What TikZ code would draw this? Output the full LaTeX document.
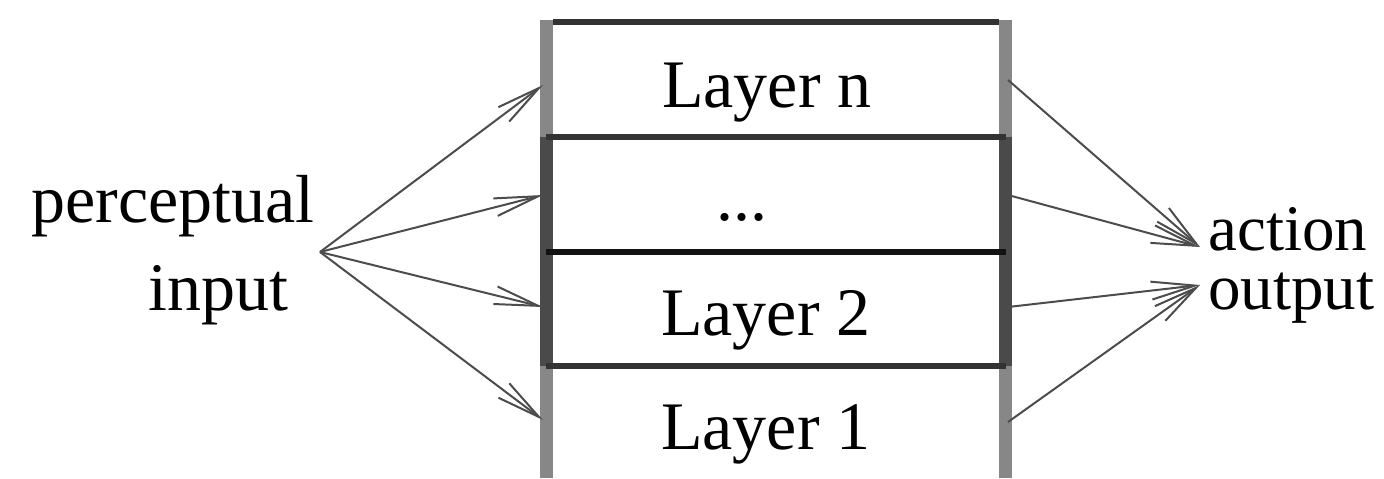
\documentclass[tikz,border=0pt]{standalone}
\usepackage{fontspec}
\setmainfont{Liberation Serif}
\usetikzlibrary{arrows.meta}
\begin{document}
\begin{tikzpicture}[x=0.5pt,y=-0.5pt,
  lbl/.style={font=\fontsize{34}{40}\selectfont, inner sep=0pt, anchor=base},
  lblw/.style={font=\fontsize{32.5}{36}\selectfont, inner sep=0pt, anchor=base west},
  conn/.style={draw=black!70, line width=1pt, -{Straight Barb[length=22pt,width=9pt,line width=1pt]}},
  edgegray/.style={fill=black!47},
  edgedark/.style={fill=black!71},
  hline/.style={line width=2.6pt, draw=black!80},
  hlinedark/.style={line width=3pt, draw=black!93},
]
\useasboundingbox (0,0) rectangle (1384,478);
% vertical edges of the layer stack
\path[edgegray] (540,20) rectangle (553,137);
\path[edgedark] (540,137) rectangle (553,366);
\path[edgegray] (540,366) rectangle (553,478);
\path[edgegray] (999,20) rectangle (1012,137);
\path[edgedark] (999,137) rectangle (1012,366);
\path[edgegray] (999,366) rectangle (1012,478);
% horizontal separators
\draw[hline] (553,22) -- (999,22);
\draw[hline] (546,137) -- (1006,137);
\draw[hlinedark] (546,252) -- (1006,252);
\draw[hline] (546,366) -- (1006,366);
% layer labels
\node[lbl] (ln) at (767,107) {Layer n};
\node[lbl] (ldots) at (742,220) {...};
\node[lbl] (l2) at (766,335) {Layer 2};
\node[lbl] (l1) at (766,449) {Layer 1};
% input / output labels
\node[lbl] (percep) at (173,222) {perceptual};
\node[lbl] (inp) at (218,310) {input};
\node[lblw] (act) at (1208,250) {action};
\node[lblw] (outp) at (1208,309) {output};
% connector points
\coordinate (src) at (320,252);
\coordinate (inN) at (543,85);
\coordinate (inD) at (543,195);
\coordinate (inB) at (543,307);
\coordinate (inA) at (543,420);
\coordinate (outN) at (1008,80);
\coordinate (outD) at (1008,195);
\coordinate (outB) at (1008,307);
\coordinate (outA) at (1008,422);
\coordinate (actpt) at (1200,247);
\coordinate (outpt) at (1200,285);
% connectors
\draw[conn] (src) -- (inN);
\draw[conn] (src) -- (inD);
\draw[conn] (src) -- (inB);
\draw[conn] (src) -- (inA);
\draw[conn] (outN) -- (actpt);
\draw[conn] (outD) -- (actpt);
\draw[conn] (outB) -- (outpt);
\draw[conn] (outA) -- (outpt);
\end{tikzpicture}
\end{document}
